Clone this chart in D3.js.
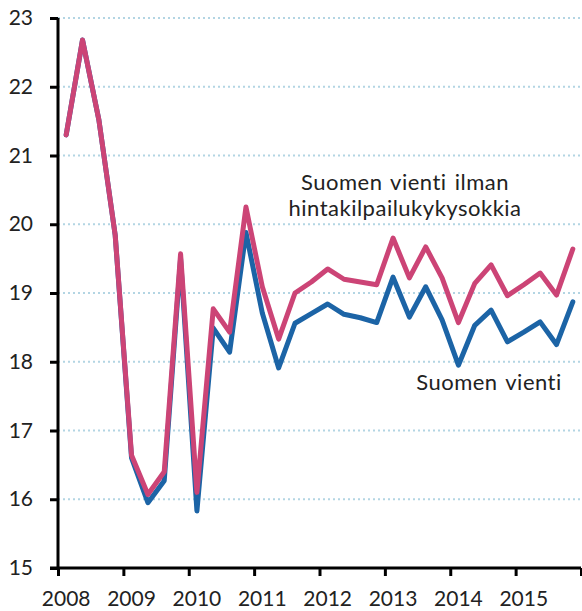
<!DOCTYPE html>
<html>
<head>
<meta charset="utf-8">
<script src="https://cdn.jsdelivr.net/npm/d3@7"></script>
<style>
  body { margin: 0; background: #fff; }
  text { font-family: Lato, "Open Sans", sans-serif; fill: #222; font-variant-ligatures: none; }
</style>
</head>
<body>
<div id="chart"></div>
<script>
    const years = ["2008", "2009", "2010", "2011", "2012", "2013", "2014", "2015"]
    const quarters = years.flatMap(y => ["Q1", "Q2", "Q3", "Q4"].map(q => y + q))

    // Suomen vienti (blue)
    const vienti = [21.3, 22.68, 21.52, 19.84, 16.6, 15.95, 16.27, 19.5,
        15.83, 18.49, 18.14, 19.88, 18.71, 17.91, 18.56, 18.7,
        18.84, 18.69, 18.64, 18.57, 19.23, 18.65, 19.09, 18.61,
        17.95, 18.53, 18.75, 18.29, 18.43, 18.58, 18.25, 18.87]

    // Suomen vienti ilman hintakilpailukykysokkia (pink)
    const ilmanSokkia = [21.3, 22.68, 21.52, 19.84, 16.64, 16.07, 16.4, 19.57,
        16.1, 18.77, 18.43, 20.25, 19.09, 18.33, 19.0, 19.16,
        19.35, 19.2, 19.16, 19.12, 19.8, 19.22, 19.67, 19.22,
        18.57, 19.14, 19.41, 18.96, 19.12, 19.29, 18.97, 19.64]

    const labelLines = ["Suomen vienti ilman", "hintakilpailukykysokkia"]

    const yTicks = [15, 16, 17, 18, 19, 20, 21, 22, 23]

    const width = 582
    const height = 611
    const plotLeft = 58, plotRight = 581, plotTop = 18, plotBottom = 568

    let svg = d3.select("#chart")
        .append("svg")
        .attr("width", width)
        .attr("height", height)

    let x = d3.scaleBand() // one band per quarter
        .domain(quarters)
        .range([plotLeft, plotRight])

    let y = d3.scaleLinear()
        .domain([15, 23])
        .range([plotBottom, plotTop])

    // dotted gridlines
    svg.append("g")
        .selectAll("line")
        .data(yTicks.filter(d => d > 15))
        .enter()
        .append("line")
        .attr("x1", plotLeft)
        .attr("x2", width)
        .attr("y1", d => y(d))
        .attr("y2", d => y(d))
        .attr("stroke", "#b3d5e3")
        .attr("stroke-width", 2)
        .attr("stroke-dasharray", "2,3")

    // y axis
    let yAxis = svg.append("g")
        .attr("transform", "translate(" + plotLeft + ",0)")
        .call(d3.axisLeft(y).tickValues(yTicks).tickSize(8).tickPadding(17).tickFormat(d3.format("d")))
    yAxis.select(".domain").attr("stroke", "#000").attr("stroke-width", 3)
        .attr("d", "M0," + plotTop + "V" + plotBottom)
    yAxis.selectAll(".tick line").attr("stroke", "#000").attr("stroke-width", 3)
    yAxis.selectAll(".tick text").attr("font-size", 21).attr("fill", "#222")
        .attr("font-family", "Lato, 'Open Sans', sans-serif")

    // x axis: ticks at year boundaries, labels at first quarter
    let yearScale = d3.scaleLinear()
        .domain([2008, 2016])
        .range([plotLeft, plotRight])

    let xAxis = svg.append("g")
        .attr("transform", "translate(0," + plotBottom + ")")
        .call(d3.axisBottom(yearScale).tickValues(d3.range(2008, 2017)).tickSize(8).tickFormat(""))
    xAxis.select(".domain").attr("stroke", "#000").attr("stroke-width", 3)
        .attr("d", "M" + (plotLeft - 8) + ",0H" + plotRight)
    xAxis.selectAll(".tick line").attr("stroke", "#000").attr("stroke-width", 3)

    svg.append("g")
        .selectAll("text")
        .data(years)
        .enter()
        .append("text")
        .attr("x", d => x(d + "Q1") + x.bandwidth() / 2)
        .attr("y", 606)
        .attr("text-anchor", "middle")
        .attr("font-size", 21)
        .text(d => d)

    let line = d3.line()
        .x((d, i) => x(quarters[i]) + x.bandwidth() / 2)
        .y(d => y(d))

    svg.append("path")
        .datum(vienti)
        .attr("d", line)
        .attr("fill", "none")
        .attr("stroke", "#1c64a6")
        .attr("stroke-width", 5)
        .attr("stroke-linejoin", "round")
        .attr("stroke-linecap", "round")

    svg.append("path")
        .datum(ilmanSokkia)
        .attr("d", line)
        .attr("fill", "none")
        .attr("stroke", "#cc4476")
        .attr("stroke-width", 5)
        .attr("stroke-linejoin", "round")
        .attr("stroke-linecap", "round")

    // series labels
    svg.append("g")
        .selectAll("text")
        .data(labelLines)
        .enter()
        .append("text")
        .attr("x", 405)
        .attr("y", (d, i) => 190 + i * 26)
        .attr("text-anchor", "middle")
        .attr("font-size", 22)
        .attr("letter-spacing", 0.5)
        .attr("word-spacing", 2)
        .text(d => d)

    svg.append("text")
        .attr("x", 489)
        .attr("y", 390)
        .attr("text-anchor", "middle")
        .attr("font-size", 22)
        .attr("letter-spacing", 0.5)
        .attr("word-spacing", 2)
        .text("Suomen vienti")
</script>
</body>
</html>
